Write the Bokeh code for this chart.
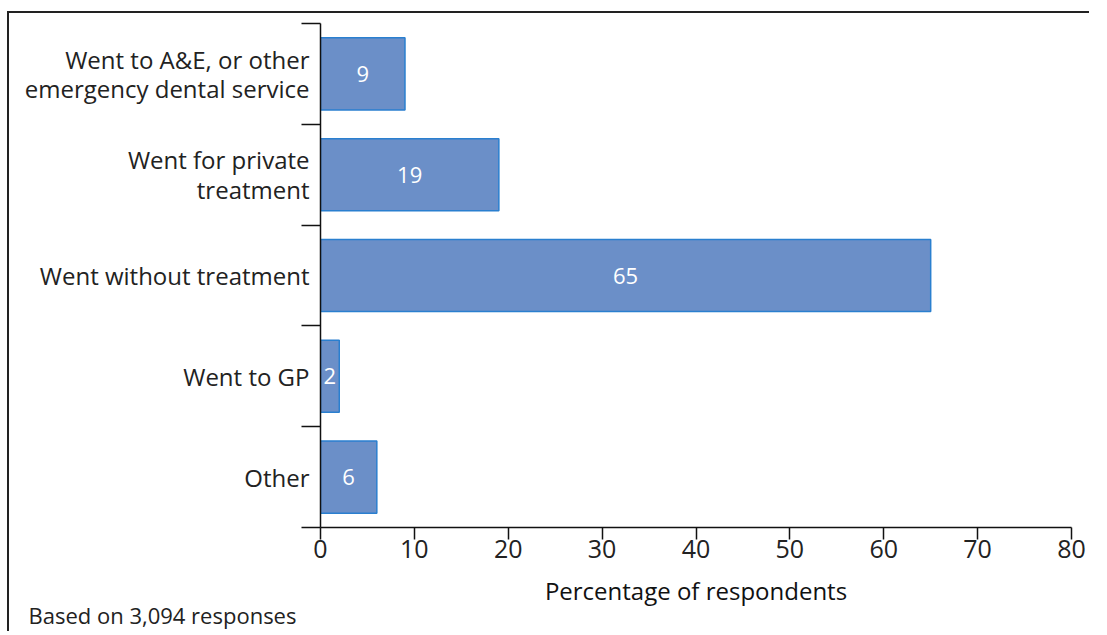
from bokeh.plotting import figure
from bokeh.models import ColumnDataSource, FixedTicker, Range1d, LabelSet, Title
from bokeh.core.properties import value
from bokeh.embed import file_html
from bokeh.resources import INLINE

categories = ["Went to A&E, or other\nemergency dental service",
              "Went for private\ntreatment",
              "Went without treatment",
              "Went to GP",
              "Other"]
values = [9, 19, 65, 2, 6]
x_ticks = [0, 10, 20, 30, 40, 50, 60, 70, 80]
note = "Based on 3,094 responses"

FONT = "Open Sans"
n = len(categories)
pos = [i + 0.5 for i in range(n)]

src = ColumnDataSource(dict(y=pos, v=values, mid=[v / 2 for v in values],
                            lab=[str(v) for v in values]))

p = figure(width=1082, height=620, output_backend="svg", toolbar_location=None,
           x_range=Range1d(0, 80), y_range=Range1d(n, 0),
           min_border_left=311, min_border_right=20, min_border_top=10,
           min_border_bottom=106)
p.styles = {"border-top": "2px solid #222", "border-left": "2px solid #222",
            "margin-top": "11px", "margin-left": "7px"}
p.outline_line_color = None
p.grid.visible = False

p.hbar(y="y", right="v", left=0, height=0.715, source=src,
       fill_color="#6B8FC8", line_color="#2A7FCF", line_width=1.5)

p.add_layout(LabelSet(x="mid", y="y", text="lab", source=src,
                      text_color="white", text_font=value(FONT), text_font_size="22px",
                      text_align="center", text_baseline="middle"))

xa = p.xaxis[0]
xa.ticker = FixedTicker(ticks=x_ticks)
xa.axis_line_color = "#111"
xa.axis_line_width = 1.5
xa.major_tick_line_color = "#111"
xa.major_tick_line_width = 1.5
xa.major_tick_in = 0
xa.major_tick_out = 12
xa.minor_tick_line_color = None
xa.major_label_text_font = FONT
xa.major_label_text_font_size = "25px"
xa.major_label_text_color = "#222"
xa.major_label_standoff = 0
xa.axis_label = "Percentage of respondents"
xa.axis_label_text_font = FONT
xa.axis_label_text_font_size = "24px"
xa.axis_label_text_font_style = "normal"
xa.axis_label_text_color = "#111"
xa.axis_label_standoff = 13

ya = p.yaxis[0]
ya.ticker = FixedTicker(ticks=pos, minor_ticks=list(range(n + 1)))
ya.major_label_overrides = {p_: c for p_, c in zip(pos, categories)}
ya.axis_line_color = "#111"
ya.axis_line_width = 1.5
ya.major_tick_line_color = None
ya.major_tick_in = 0
ya.major_tick_out = 0
ya.minor_tick_line_color = "#111"
ya.minor_tick_line_width = 1.5
ya.minor_tick_in = 0
ya.minor_tick_out = 19
ya.major_label_text_font = FONT
ya.major_label_text_font_size = "24px"
ya.major_label_text_color = "#222"
ya.major_label_text_line_height = 0.9
ya.major_label_standoff = -8

p.add_layout(Title(text=note, align="left", offset=-292, standoff=-20,
                   vertical_align="top",
                   text_font=FONT, text_font_size="22px", text_font_style="normal",
                   text_color="#222"), "below")

open("out.html", "w").write(file_html(p, INLINE))
